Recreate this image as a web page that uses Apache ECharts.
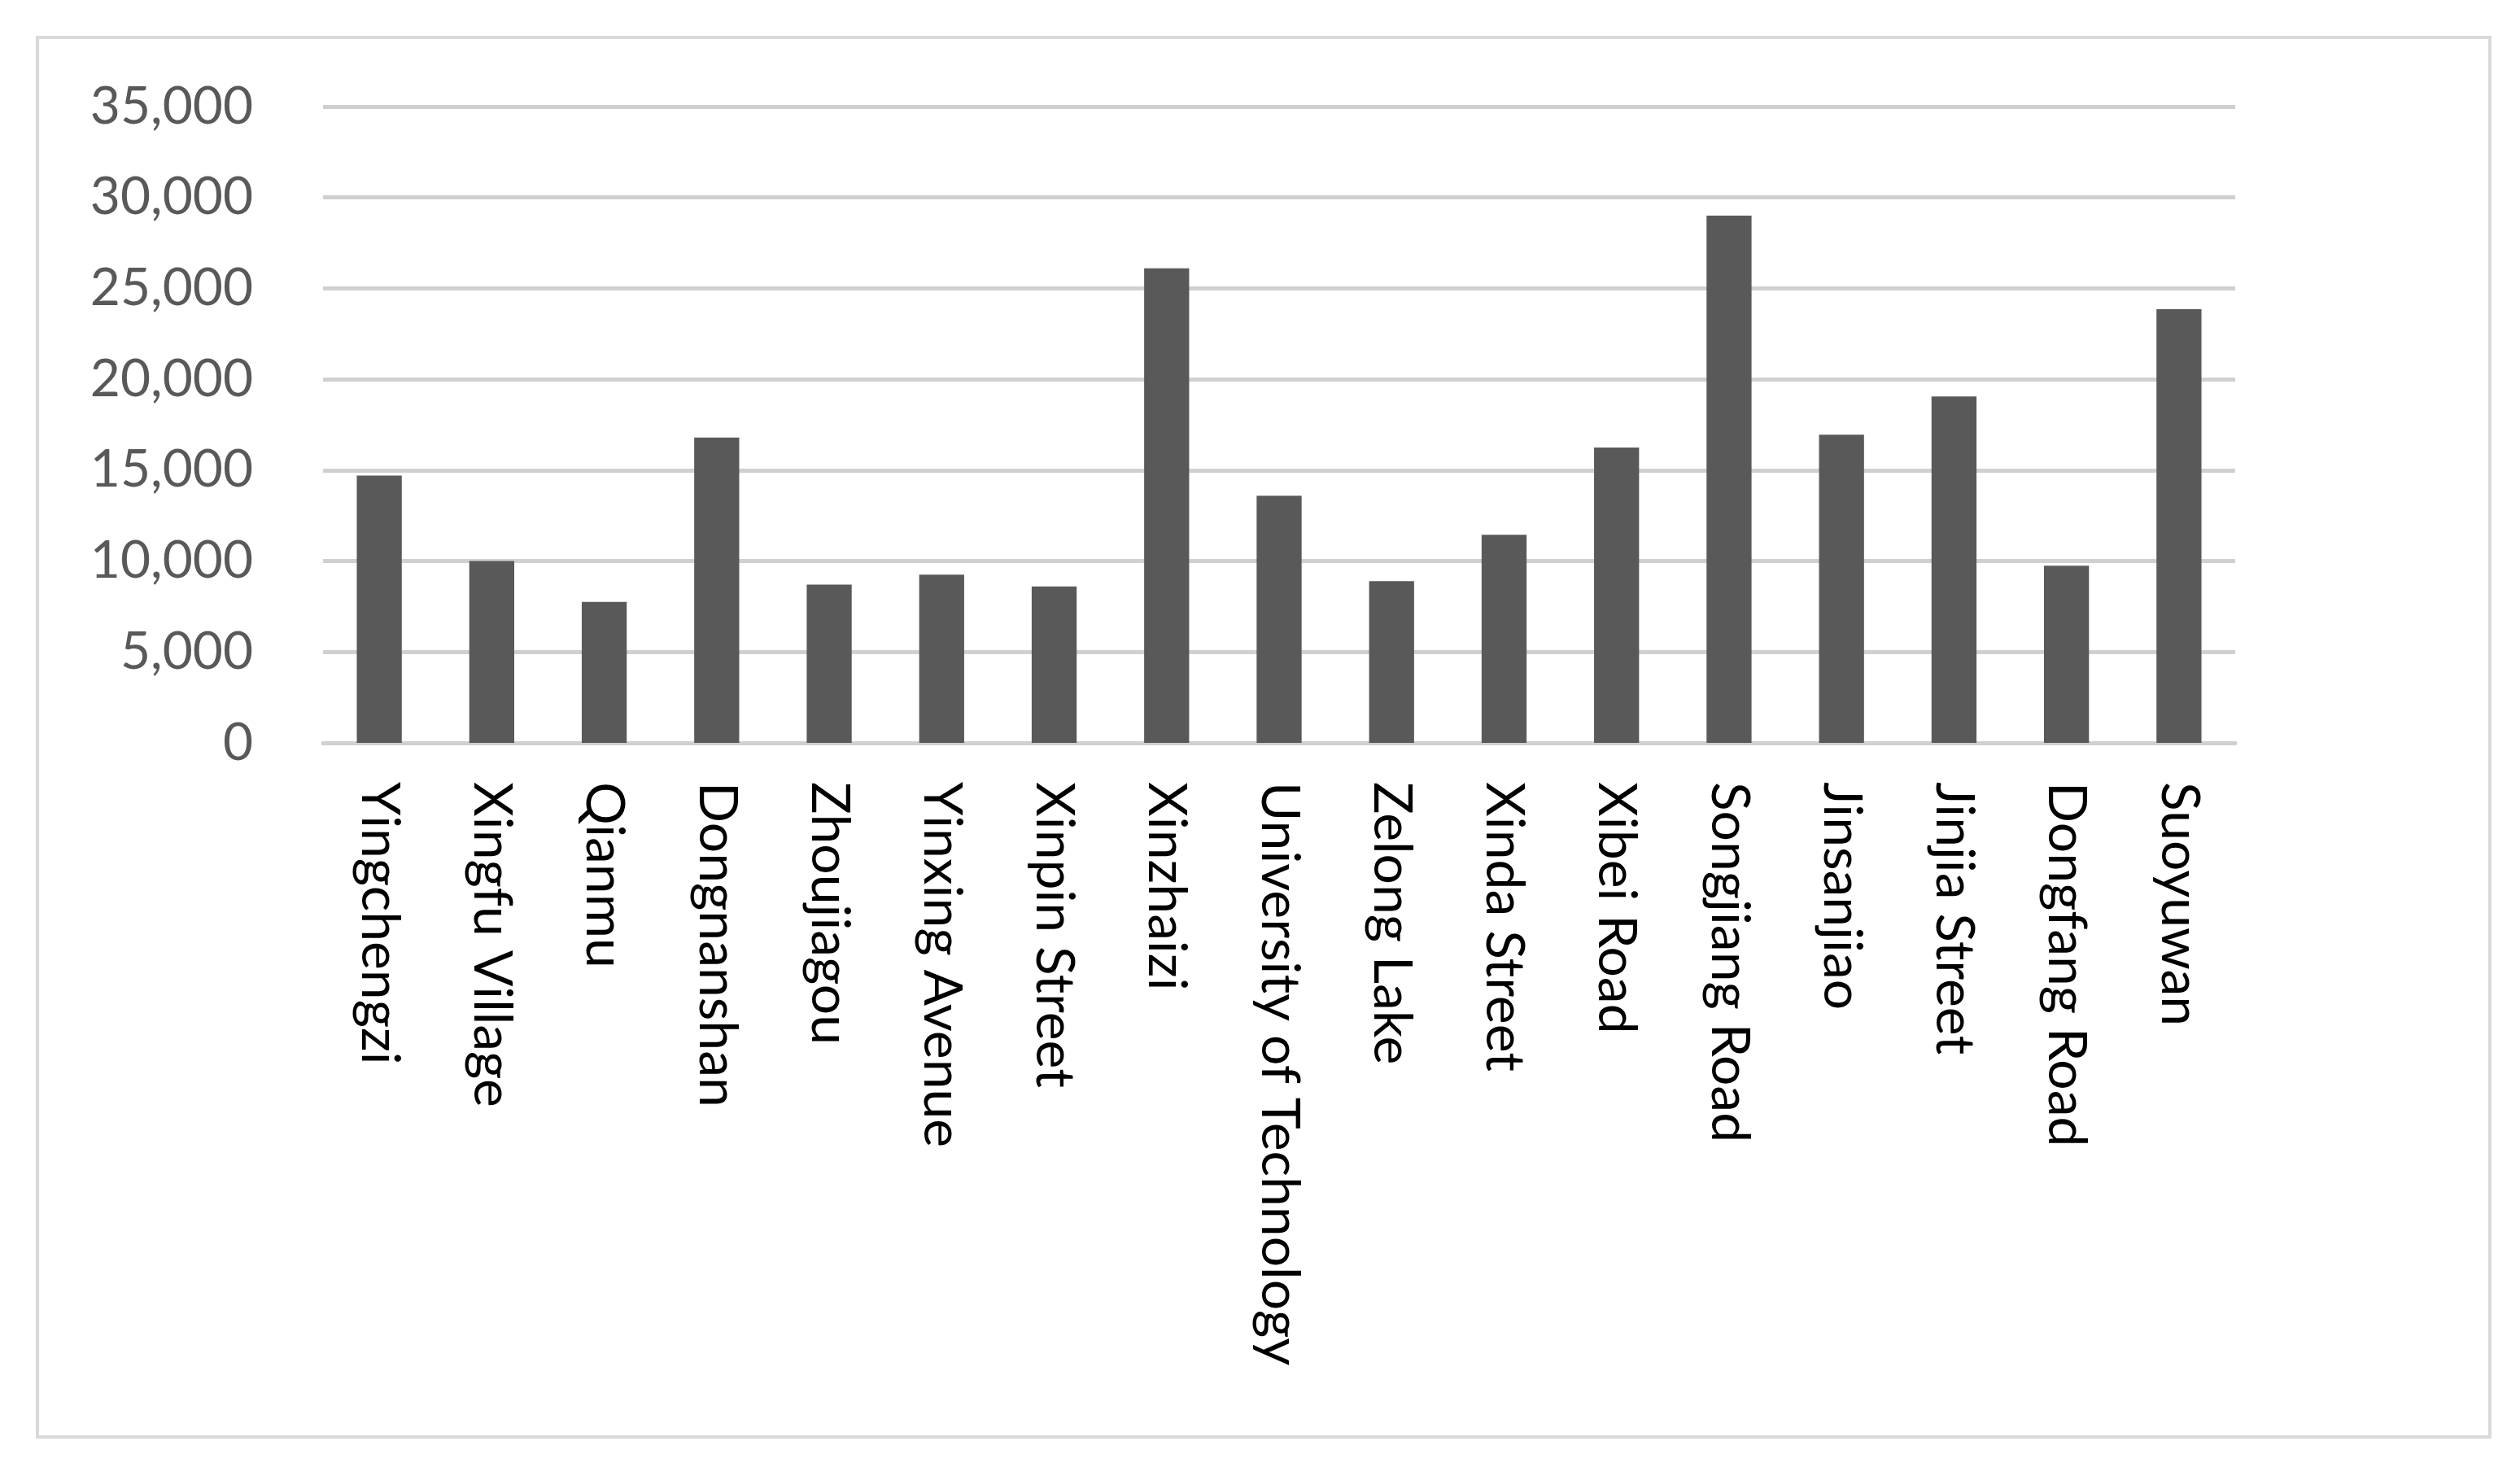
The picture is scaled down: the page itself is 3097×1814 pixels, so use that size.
<!DOCTYPE html>
<html>
<head>
<meta charset="utf-8">
<script src="https://cdn.jsdelivr.net/npm/echarts@6/dist/echarts.min.js"></script>
<style>
  html, body { margin: 0; padding: 0; background: #fff; }
  #frame { position: absolute; left: 44px; top: 44px; width: 3018px; height: 1724px; border: 4px solid #d9d9d9; box-sizing: border-box; }
  #main { position: absolute; left: 0; top: 0; width: 3097px; height: 1814px; }
</style>
</head>
<body>
<div id="frame"></div>
<div id="main"></div>
<script>
var categories = ['Yingchengzi', 'Xingfu Village', 'Qianmu', 'Dongnanshan', 'Zhoujiagou', 'Yinxing Avenue',
  'Xinpin Street', 'Xinzhaizi', 'University of Technology', 'Zelong Lake', 'Xinda Street', 'Xibei Road',
  'Songjiang Road', 'Jinsanjiao', 'Jinjia Street', 'Dongfang Road', 'Suoyuwan'];
var values = [14700, 10000, 7750, 16800, 8700, 9250, 8600, 26100, 13600, 8900, 11450, 16250, 29000, 16950, 19050, 9750, 23850];

var myChart = echarts.init(document.getElementById('main'));
myChart.setOption({
  animation: false,
  grid: { left: 397, right: 350, top: 131, bottom: 901 },
  xAxis: {
    type: 'category',
    data: categories,
    axisLine: { lineStyle: { color: '#d0d0d0', width: 5 } },
    axisTick: { show: false },
    axisLabel: {
      rotate: -90, interval: 0, margin: 48, color: '#000',
      fontFamily: 'Lato', fontSize: 66
    }
  },
  yAxis: {
    type: 'value', min: 0, max: 35000, interval: 5000,
    axisLine: { show: false },
    axisTick: { show: false },
    splitLine: { lineStyle: { color: '#d0d0d0', width: 5 } },
    axisLabel: {
      color: '#595959', fontFamily: 'Lato', fontSize: 64, margin: 86,
      formatter: function (v) { return v.toLocaleString('en-US'); }
    }
  },
  series: [{
    type: 'bar',
    data: values,
    barWidth: '40%',
    itemStyle: { color: '#595959' }
  }]
});
</script>
</body>
</html>
